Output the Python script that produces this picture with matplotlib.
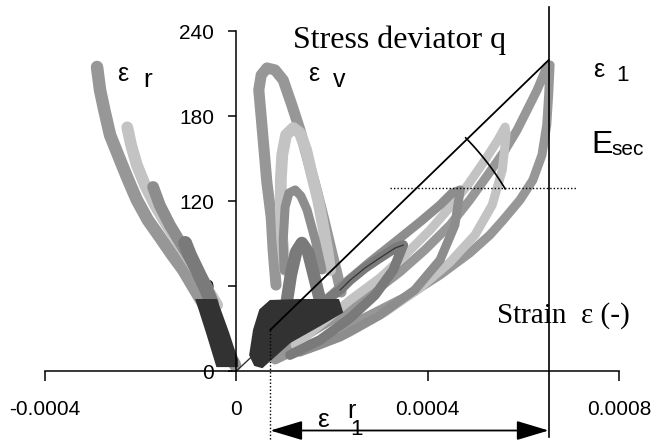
import numpy as np
import matplotlib
matplotlib.use("Agg")
import matplotlib.pyplot as plt

plt.rcParams["font.family"] = ["Liberation Sans", "DejaVu Sans"]

# --- data: strain (-) vs stress deviator q (kPa) ---
# radial strain, one band per cycle (peak -> origin)
er_outer_x = [-2.912e-4, -2.85e-4, -2.76e-4, -2.64e-4, -2.43e-4, -2.26e-4, -2.08e-4, -1.85e-4, -1.60e-4,
              -1.34e-4, -1.11e-4, -9.0e-5, -7.0e-5, -5.1e-5, -3.4e-5, -1.7e-5, -2.7e-6]
er_outer_q = [214.6, 198.4, 184.2, 166.6, 148.9, 134.8, 120.7, 106.6, 94.6, 81.9, 71.3, 59.3, 48.0, 36.0, 24.0, 13.4, 4.2]
er_light_x = [-2.28e-4, -2.2e-4, -2.08e-4, -1.91e-4, -1.70e-4, -1.45e-4, -1.18e-4, -9.1e-5, -6.6e-5, -4.0e-5]
er_light_q = [172, 159.5, 145.4, 131.3, 117.2, 103, 89, 74.8, 60.7, 46.6]
er_mid_x = [-1.74e-4, -1.6e-4, -1.39e-4, -1.14e-4, -8.6e-5, -6.1e-5]
er_mid_q = [129.9, 117, 103, 89, 73.4, 59.3]
er_dark_x = [-1.07e-4, -9.7e-5, -8.2e-5, -6.5e-5, -5.1e-5]
er_dark_q = [90.4, 81.9, 71.3, 59.3, 48]
# first cycle (dark block) outline
er_black_x = [-8.3e-5, -4.2e-5, -1.7e-5, 1.5e-6, 1.5e-6, -4.0e-5, -6.1e-5]
er_black_q = [50.1, 50.1, 26.8, 7.8, 3.5, 3.5, 26.8]

# volumetric strain loops
ev_outer_x = [8.3e-5, 7.7e-5, 7.3e-5, 6.4e-5, 5.8e-5, 5.2e-5, 4.7e-5, 5.2e-5, 6.4e-5, 8.1e-5, 9.8e-5,
              1.16e-4, 1.33e-4, 1.50e-4, 1.67e-4, 1.83e-4, 1.98e-4, 2.11e-4, 2.19e-4]
ev_outer_q = [60.7, 85.4, 108.7, 132.7, 156, 179.3, 198.4, 208.9, 213.9, 212.5, 205.4,
              187.8, 170.1, 148.9, 127.8, 106.6, 85.4, 67.8, 55.8]
ev_light_x = [1.02e-4, 9.6e-5, 9.3e-5, 9.3e-5, 9.6e-5, 1.04e-4, 1.19e-4, 1.33e-4, 1.46e-4,
              1.58e-4, 1.71e-4, 1.81e-4, 1.90e-4, 1.96e-4]
ev_light_q = [71.3, 92.5, 113.6, 134.8, 152.5, 166.6, 171.5, 168, 156, 138.4, 120.7, 103.1, 85.4, 71.3]
ev_mid_x = [9.97e-5, 9.8e-5, 1.02e-4, 1.10e-4, 1.23e-4, 1.35e-4, 1.48e-4, 1.65e-4, 1.79e-4]
ev_mid_q = [71.3, 92.5, 115.8, 125.6, 127.8, 123.5, 113.6, 92.5, 71.3]
ev_dark_x = [1.06e-4, 1.14e-4, 1.25e-4, 1.37e-4, 1.50e-4, 1.62e-4, 1.75e-4]
ev_dark_q = [50.1, 67.8, 84, 90.4, 84, 67.8, 50.1]
# first cycle of volumetric and axial strain (dark block) outline
first_x = [3.9e-5, 2.9e-5, 3.7e-5, 5.0e-5, 7.1e-5, 1.33e-4, 2.13e-4, 2.21e-4, 1.75e-4, 1.12e-4, 7.5e-5, 5.4e-5]
first_q = [4.2, 11.3, 28.9, 43.1, 49.4, 50.1, 50.1, 41.6, 32.5, 20.5, 9.2, 2.8]
# initial loading from the origin
start_x = [0, 3.5e-5]
start_q = [0, 11]

# axial strain loops (loading branch then unloading branch)
e1_outer_x = [8.1e-5, 1.33e-4, 1.75e-4, 2.17e-4, 2.79e-4, 3.57e-4, 4.26e-4, 4.88e-4, 5.30e-4, 5.58e-4,
              5.93e-4, 6.20e-4, 6.39e-4, 6.49e-4, 6.53e-4, 6.56e-4,
              6.49e-4, 6.29e-4, 6.08e-4, 5.87e-4, 5.62e-4, 5.30e-4, 4.88e-4, 4.47e-4, 3.94e-4,
              3.42e-4, 2.79e-4, 2.17e-4, 1.54e-4, 9.1e-5]
e1_outer_q = [7.8, 16.2, 21.9, 28.9, 39.5, 52.9, 67.8, 83.3, 96, 106.6, 120.7, 134.8, 152.5, 173.6, 194.8, 216,
              214.6, 198.4, 184.2, 170.1, 156, 140.5, 120.7, 103.1, 85.4, 69.9, 53.6, 39.5, 26.8, 14.8]
e1_light_x = [1.12e-4, 1.75e-4, 2.38e-4, 3.11e-4, 3.84e-4, 4.47e-4, 4.99e-4, 5.35e-4, 5.56e-4, 5.64e-4, 5.62e-4,
              5.47e-4, 5.20e-4, 4.84e-4, 4.47e-4, 4.05e-4, 3.53e-4, 3.0e-4, 2.38e-4, 1.75e-4, 1.23e-4]
e1_light_q = [11.3, 18.4, 27.5, 41.6, 58.6, 76.9, 96, 117.2, 141.9, 166.6, 172.2,
              163.1, 148.9, 131.3, 115.8, 99.5, 81.9, 65.6, 50.1, 32.5, 18.4]
e1_mid_x = [1.33e-4, 2.17e-4, 3.0e-4, 3.73e-4, 4.26e-4, 4.57e-4, 4.68e-4,
            4.51e-4, 4.26e-4, 3.84e-4, 3.32e-4, 2.79e-4, 2.27e-4, 1.75e-4, 1.33e-4]
e1_mid_q = [13.4, 24, 39.5, 57.2, 78.4, 103.1, 127.8, 125.6, 117.2, 105.2, 91.1, 76.9, 62.1, 46.6, 34.6]
e1_dark_x = [1.12e-4, 1.75e-4, 2.38e-4, 2.90e-4, 3.28e-4, 3.49e-4,
             3.32e-4, 3.0e-4, 2.69e-4, 2.38e-4, 2.17e-4, 1.75e-4, 1.33e-4]
e1_dark_q = [11.3, 21.9, 37.4, 53.6, 71.3, 88.9, 86.8, 79.8, 72.7, 64.2, 57.2, 46.6, 36]

# secant line, reference level and reversal strain
sec_x = [7.1e-5, 6.53e-4]
sec_q = [29, 219.5]
q_ref = 129
x_max = 6.53e-4

fig = plt.figure(figsize=(6.55, 4.41), dpi=100)
ax = fig.add_axes([0.0687, 0.1587, 0.8763, 0.771])
ax.set_xlim(-0.0004, 0.0008)
ax.set_ylim(0, 240)

c_outer, c_light, c_mid, c_dark, c_black = "#979797", "#c3c3c3", "#8d8d8d", "#7a7a7a", "#323232"

groups = [
    (er_outer_x, er_outer_q, c_outer, 9), (ev_outer_x, ev_outer_q, c_outer, 8),
    (e1_outer_x, e1_outer_q, c_outer, 6.5),
    (er_light_x, er_light_q, c_light, 8.5), (ev_light_x, ev_light_q, c_light, 8.5),
    (e1_light_x, e1_light_q, c_light, 6.5),
    (er_mid_x, er_mid_q, c_mid, 8.5), (ev_mid_x, ev_mid_q, c_mid, 6.5),
    (e1_mid_x, e1_mid_q, c_mid, 6.5),
    (er_dark_x, er_dark_q, c_dark, 10), (ev_dark_x, ev_dark_q, c_dark, 9),
    (e1_dark_x, e1_dark_q, c_dark, 7),
]
for gx, gq, col, lw in groups:
    ax.plot(gx, gq, color=col, lw=lw, solid_capstyle="round", solid_joinstyle="round", zorder=2)
ax.fill(er_black_x, er_black_q, color=c_black, lw=1.5, zorder=2)
ax.fill(first_x, first_q, color=c_black, lw=1.5, zorder=2)
ax.plot(start_x, start_q, color=c_black, lw=1, zorder=2)
ax.plot(e1_dark_x[5:11], e1_dark_q[5:11], color="#333333", lw=0.9, zorder=3)

# secant modulus construction
ax.plot(sec_x, sec_q, color="black", lw=1.3, zorder=4)
ax.plot([3.22e-4, 7.1e-4], [q_ref, q_ref], color="black", lw=1, ls=(0, (1, 1.5)), clip_on=False, zorder=4)
ax.plot([x_max, x_max], [-46.6, 257], color="black", lw=1.2, clip_on=False, zorder=4)
ax.plot([sec_x[0], sec_x[0]], [sec_q[0], -49], color="black", lw=1, ls=(0, (1, 1.5)), clip_on=False, zorder=4)

# arc between secant and reference level (circular in pixels)
ang = np.radians(np.linspace(31, 44.5, 30))
rx, ry = 274 * 0.0012 / 574, 274 * 240 / 340
ax.plot(sec_x[0] + rx * np.cos(ang), sec_q[0] + ry * np.sin(ang), color="black", lw=1.2, zorder=4)

ax.annotate("", xy=(sec_x[0], -42), xytext=(x_max, -42),
            arrowprops=dict(arrowstyle="<|-|>,head_length=1.0,head_width=0.3", color="black",
                            lw=1.3, shrinkA=0, shrinkB=0, mutation_scale=20),
            annotation_clip=False)

# axes styling
for s in ["top", "right"]:
    ax.spines[s].set_visible(False)
ax.spines["left"].set_position(("data", 0))
ax.spines["left"].set_linewidth(1.1)
ax.spines["bottom"].set_linewidth(1.1)
ax.set_yticks([0, 60, 120, 180, 240])
ax.set_yticklabels(["0", "60", "120", "180", "240"])
ax.set_xticks([-0.0004, 0, 0.0004, 0.0008])
ax.set_xticklabels(["-0.0004", "0", "0.0004", "0.0008"])
ax.tick_params(axis="y", direction="out", length=6, width=1.1, pad=10, labelsize=15)
ax.tick_params(axis="x", direction="out", length=7, width=1.1, pad=14, labelsize=15)

serif = ["Liberation Serif", "DejaVu Serif"]
ax.text(1.185e-4, 228, "Stress deviator q", fontsize=23, family=serif, va="baseline")
ax.text(5.45e-4, 33.9, "Strain  ε (-)", fontsize=21, family=serif, va="baseline")
ax.text(-2.494e-4, 204.7, "ε", fontsize=18, va="baseline")
ax.text(-1.95e-4, 200.5, "r", fontsize=19, va="baseline")
ax.text(1.495e-4, 204.7, "ε", fontsize=18, va="baseline")
ax.text(2.02e-4, 200.5, "v", fontsize=18, va="baseline")
ax.text(7.457e-4, 207.5, "ε", fontsize=18, va="baseline", clip_on=False)
ax.text(7.94e-4, 204.7, "1", fontsize=16, va="baseline", clip_on=False)
ax.text(7.43e-4, 153.9, "E", fontsize=23, va="baseline", clip_on=False)
ax.text(7.85e-4, 152.5, "sec", fontsize=15, va="baseline", clip_on=False)
ax.text(1.693e-4, -39.5, "ε", fontsize=19, va="baseline", clip_on=False)
ax.text(2.32e-4, -33.5, "r", fontsize=18, va="baseline", clip_on=False)
ax.text(2.38e-4, -45, "1", fontsize=16, va="baseline", clip_on=False)

fig.savefig("out.png", dpi=100)
